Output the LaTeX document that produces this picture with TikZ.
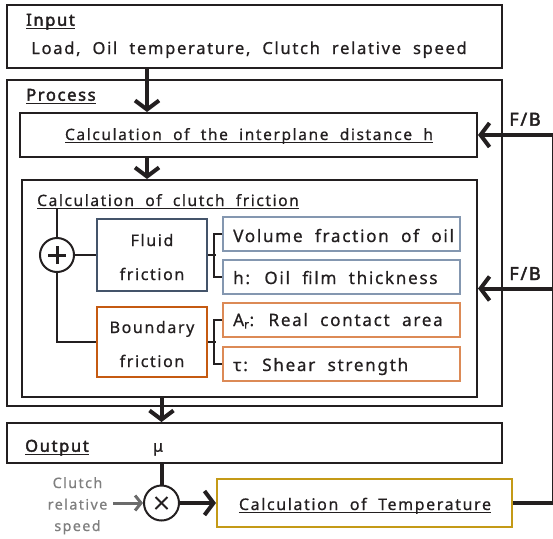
\documentclass[tikz,border=0pt]{standalone}
\usepackage{fontspec}
\setmainfont{Noto Sans}[WordSpace=2, LetterSpace=10, FakeBold=0.7]
\newfontfamily\tbold{Noto Sans}[WordSpace=2, LetterSpace=10, FakeBold=2.5]
\usetikzlibrary{arrows.meta}
\definecolor{ink}{HTML}{231F20}
\definecolor{fluidc}{HTML}{44546A}
\definecolor{fluidl}{HTML}{8497B0}
\definecolor{bndc}{HTML}{C55A11}
\definecolor{bndl}{HTML}{DC8A56}
\definecolor{tempc}{HTML}{C49A16}
\definecolor{grayt}{HTML}{7F7F7F}
\definecolor{graya}{HTML}{6B6B6B}
\newcommand\ulx[1]{\setbox0=\hbox{#1}\rlap{\rule[-3.2pt]{\wd0}{1.4pt}}\box0}
\newcommand\fs[1]{\fontsize{#1}{18}\selectfont}
\begin{document}
\begin{tikzpicture}[x=1pt,y=-1pt,
  font=\fs{16}, text=ink,
  bigbox/.style={draw=ink, line width=2pt, inner sep=0pt},
  smallbox/.style={line width=1.4pt, inner sep=0pt, minimum width=237pt, minimum height=34pt},
  lbl/.style={inner sep=0pt, anchor=base west},
  clbl/.style={inner sep=0pt, anchor=base},
  sblbl/.style={inner sep=0pt, anchor=base west, font=\fs{17.1}},
  title/.style={inner sep=0pt, anchor=base west, font=\tbold\fs{16.5}},
  bigarrow/.style={draw=ink, line width=4pt, -{Straight Barb[length=9pt,width=24pt]}},
  thinline/.style={draw=ink, line width=2pt},
]
\useasboundingbox (0,0) rectangle (553,538);

% main boxes
\node[bigbox, minimum width=495pt, minimum height=63pt] (inputbox) at (254.5,36.5) {};
\node[bigbox, minimum width=495pt, minimum height=326pt] (procbox) at (254.5,243) {};
\node[bigbox, minimum width=457pt, minimum height=44pt] (hbox) at (248.5,135) {};
\node[bigbox, minimum width=455pt, minimum height=217pt] (cfbox) at (249.5,288.5) {};
\node[bigbox, minimum width=495pt, minimum height=40pt] (outbox) at (254.5,443) {};
\node[draw=tempc, line width=2pt, inner sep=0pt, minimum width=295pt, minimum height=48pt] (tempbox) at (364.5,503) {};

% texts
\node[title] (inputt) at (26,25.7) {\ulx{Input}};
\node[lbl, font=\fs{16.6}] (inputv) at (31,54) {Load, Oil temperature, Clutch relative speed};
\node[title] (proct) at (26,100.7) {\ulx{Process}};
\node[clbl, font=\fs{15.6}] (ht) at (249,140) {\ulx{Calculation of the interplane distance h}};
\node[lbl, font=\fs{15.6}] (cft) at (37,206) {\ulx{Calculation of clutch friction}};
\node[title] (outt) at (25,451.7) {\ulx{Output}};
\node[clbl] (mu) at (158,451.7) {μ};
\node[clbl, font=\fs{16}] (tempt) at (365,510) {\ulx{Calculation of Temperature}};
\node[clbl, font=\tbold\fs{18}] (fb1) at (525,125.7) {F/B};
\node[clbl, font=\tbold\fs{18}] (fb2) at (525,280) {F/B};
\node[inner sep=0pt, text=grayt, align=center, font=\fontsize{14.3}{21.5}\selectfont, anchor=base] (crs) at (77.5,531) {Clutch\\relative\\speed};

% friction boxes
\node[draw=fluidc, line width=2pt, minimum width=110pt, minimum height=72pt, inner sep=0pt] (fluid) at (152,255) {};
\node[clbl] (fluidt1) at (152,246) {Fluid};
\node[clbl] (fluidt2) at (152,280) {friction};
\node[draw=bndc, line width=2pt, minimum width=110pt, minimum height=70pt, inner sep=0pt] (boundary) at (152,342) {};
\node[clbl] (bndt1) at (152,333) {Boundary};
\node[clbl] (bndt2) at (152,367) {friction};

\node[smallbox, draw=fluidl] (vol) at (341.5,234) {};
\node[smallbox, draw=fluidl] (film) at (341.5,277) {};
\node[smallbox, draw=bndl] (area) at (341.5,320) {};
\node[smallbox, draw=bndl] (shear) at (341.5,364) {};
\node[sblbl] (volt) at (233,242) {Volume fraction of oil};
\node[sblbl] (filmt) at (233,284) {h: Oil film thickness};
\node[sblbl] (areat) at (233,326) {A\textsubscript{r}: Real contact area};
\node[sblbl] (sheart) at (233,371) {τ: Shear strength};

% operators
\node[circle, draw=ink, line width=2pt, minimum size=34pt, inner sep=0pt] (plus) at (57,255) {};
\draw[ink, line width=3pt] ([xshift=-9pt]plus.center) -- ([xshift=9pt]plus.center);
\draw[ink, line width=3pt] ([yshift=-9pt]plus.center) -- ([yshift=9pt]plus.center);
\node[circle, draw=ink, line width=2pt, minimum size=35pt, inner sep=0pt] (times) at (161.5,503) {};
\draw[ink, line width=2pt] ([shift={(-6pt,-6pt)}]times.center) -- ([shift={(6pt,6pt)}]times.center);
\draw[ink, line width=2pt] ([shift={(-6pt,6pt)}]times.center) -- ([shift={(6pt,-6pt)}]times.center);

% connectors inside clutch friction
\draw[thinline] (plus.north |- cft.south) -- (plus.north);
\draw[thinline] (plus.east) -- (fluid.west);
\draw[thinline] (plus.south) |- (boundary.west);
\draw[thinline] (fluid.east) -- ++(8,0);
\draw[thinline] (vol.west) -- ++(-8,0) |- (film.west);
\draw[thinline] (boundary.east) -- ++(8,0);
\draw[thinline] (area.west) -- ++(-8,0) |- (shear.west);

% main arrows
\draw[bigarrow] ([xshift=141pt]inputbox.south west) -- ([xshift=128pt]hbox.north west);
\draw[bigarrow] ([xshift=128pt]hbox.south west) -- ([xshift=126pt]cfbox.north west);
\draw[bigarrow] (cfbox.south -| times) -- (outbox.north -| times);
\draw[thinline, line width=4pt] (outbox.south -| times) -- (times.north);
\draw[draw=graya, line width=3pt, -{Straight Barb[length=6pt,width=15pt]}] ([xshift=6pt]crs.east |- times.west) -- (times.west);
\draw[bigarrow] (times.east) -- (tempbox.west);

% feedback
\coordinate (fbtop) at (553.5,135);
\coordinate (fbmid) at (553.5,288.5);
\draw[thinline, line width=4pt] (tempbox.east) -| (fbtop);
\draw[bigarrow] (fbtop) -- (hbox.east);
\draw[bigarrow] (fbmid) -- (cfbox.east);
\end{tikzpicture}
\end{document}
